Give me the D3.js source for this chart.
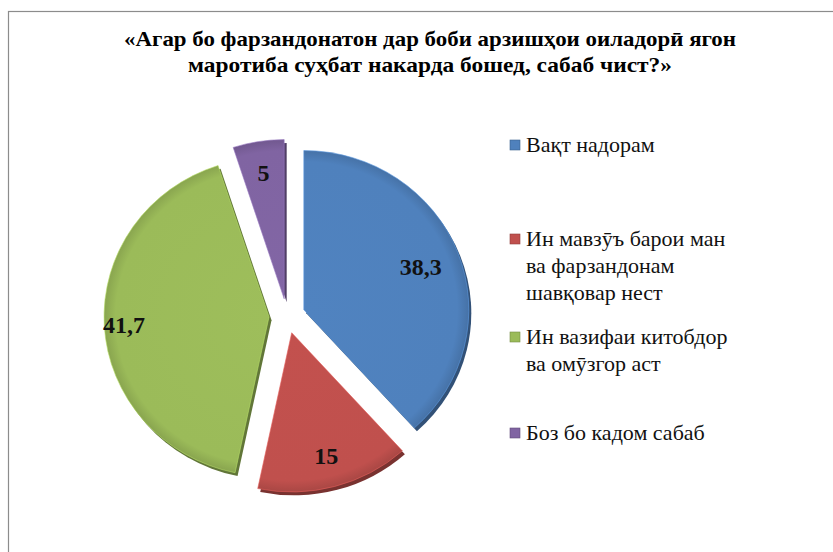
<!DOCTYPE html>
<html>
<head>
<meta charset="utf-8">
<script src="https://cdn.jsdelivr.net/npm/d3@7"></script>
<style>
  html, body { margin: 0; padding: 0; background: #fff; }
  svg { display: block; }
  .serif { font-family: "Liberation Serif", "Times New Roman", serif; }
</style>
</head>
<body>
<svg id="chart" width="833" height="552"></svg>
<script>
// ---- data ----
const titleLines = [
  "«Агар бо фарзандонатон дар боби арзишҳои оиладорӣ ягон",
  "маротиба суҳбат накарда бошед, сабаб чист?»"
];
const categories = [
  "Вақт надорам",
  "Ин мавзӯъ барои ман ва фарзандонам шавқовар нест",
  "Ин вазифаи китобдор ва омӯзгор аст",
  "Боз бо кадом сабаб"
];
const legendLines = [
  ["Вақт надорам"],
  ["Ин мавзӯъ барои ман", "ва фарзандонам", "шавқовар нест"],
  ["Ин вазифаи китобдор", "ва омӯзгор аст"],
  ["Боз бо кадом сабаб"]
];
const values = [38.3, 15, 41.7, 5];
const valueLabels = ["38,3", "15", "41,7", "5"];

// ---- styles ----
const colors = ["#4F81BD", "#C0504D", "#9BBB59", "#8064A2"];
const labelFrac = [0.76, 0.8, 0.88, 0.8];

const svg = d3.select("#chart");

// outer frame (only top and left edge visible)
svg.append("rect")
  .attr("x", 8.5).attr("y", 11.5)
  .attr("width", 900).attr("height", 700)
  .attr("fill", "#fff").attr("stroke", "#8c8c8c").attr("stroke-width", 1.2);

// title
const titleWidths = [612, 484];
svg.append("g").selectAll("text")
  .data(titleLines)
  .join("text")
  .attr("class", "serif")
  .attr("x", 430)
  .attr("y", (d, i) => 46 + i * 26)
  .attr("text-anchor", "middle")
  .attr("font-weight", "bold")
  .attr("font-size", 21)
  .attr("fill", "#000")
  .attr("textLength", (d, i) => titleWidths[i])
  .attr("lengthAdjust", "spacingAndGlyphs")
  .text(d => d);

// pie
const cx = 287, cy = 316, R = 165, explode = 18, tilt = 0.965;
const pie = d3.pie().sort(null).value(d => d);
const arcs = pie(values);
const arc = d3.arc().innerRadius(0).outerRadius(R);
const mid = d => (d.startAngle + d.endAngle) / 2;

const defs = svg.append("defs");
colors.forEach((c, i) => {
  const g = defs.append("radialGradient")
    .attr("id", "grad" + i)
    .attr("gradientUnits", "userSpaceOnUse")
    .attr("cx", 0).attr("cy", 0).attr("r", R);
  g.append("stop").attr("offset", "0%").attr("stop-color", d3.color(c).brighter(0.05));
  g.append("stop").attr("offset", "93%").attr("stop-color", c);
  g.append("stop").attr("offset", "100%").attr("stop-color", d3.color(c).darker(0.35));
});

const pieG = svg.append("g").attr("transform", `translate(${cx},${cy}) scale(1,${tilt})`);
const sliceG = pieG.selectAll("g.slice")
  .data(arcs)
  .join("g")
  .attr("class", "slice")
  .attr("transform", d => `translate(${explode * Math.sin(mid(d))},${-explode * Math.cos(mid(d))})`);

// depth / bevel shadow
sliceG.append("path")
  .attr("d", arc)
  .attr("transform", "translate(2.5,3.5)")
  .attr("fill", (d, i) => d3.color(colors[i]).darker(1.3));

sliceG.append("path")
  .attr("d", arc)
  .attr("fill", (d, i) => `url(#grad${i})`);

// highlight rim
sliceG.append("path")
  .attr("d", arc)
  .attr("fill", "none")
  .attr("stroke", (d, i) => d3.color(colors[i]).brighter(0.5))
  .attr("stroke-width", 1)
  .attr("stroke-opacity", 0.6);

// value labels
svg.append("g")
  .attr("transform", `translate(${cx},${cy})`)
  .selectAll("text")
  .data(arcs)
  .join("text")
  .attr("class", "serif")
  .attr("transform", (d, i) => {
    const a = mid(d);
    const r = R * labelFrac[i] + explode;
    return `translate(${r * Math.sin(a)},${-r * Math.cos(a) * tilt})`;
  })
  .attr("text-anchor", "middle")
  .attr("dy", "0.35em")
  .attr("font-weight", "bold")
  .attr("font-size", 24)
  .attr("fill", "#111")
  .text((d, i) => valueLabels[i]);

// legend
const legendY = [152, 246, 344, 440];
const items = svg.append("g").selectAll("g.item")
  .data(categories)
  .join("g")
  .attr("class", "item")
  .attr("transform", (d, i) => `translate(510,${legendY[i]})`);

items.append("rect")
  .attr("x", 0).attr("y", -12)
  .attr("width", 10).attr("height", 10)
  .attr("fill", (d, i) => colors[i])
  .attr("stroke", (d, i) => d3.color(colors[i]).darker(0.8))
  .attr("stroke-width", 0.6);

items.append("text")
  .attr("class", "serif")
  .attr("font-size", 22)
  .attr("fill", "#111")
  .selectAll("tspan")
  .data((d, i) => legendLines[i])
  .join("tspan")
  .attr("x", 16)
  .attr("y", (d, j) => j * 27)
  .text(d => d);
</script>
</body>
</html>
